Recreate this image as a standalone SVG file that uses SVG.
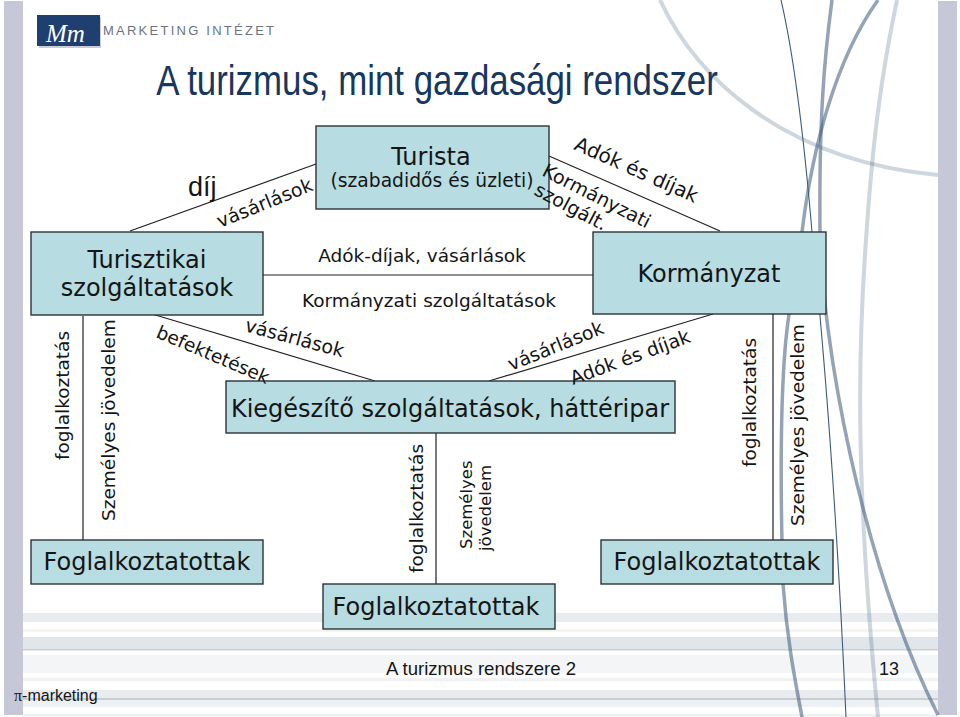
<svg xmlns="http://www.w3.org/2000/svg" width="960" height="717" viewBox="0 0 960 717">
<style>
.n{fill:#b7dde2;stroke:#2b3338;stroke-width:1.4}
.c{stroke:#222;stroke-width:1.2;fill:none}
text{font-family:"DejaVu Sans",Verdana,sans-serif;fill:#151515}
.a{font-family:"Liberation Sans",Arial,sans-serif}
.s{font-size:18.5px}
.r{font-size:19px}
.m{font-size:24px;text-anchor:middle}
.bg{fill:none;stroke:#3d5a7a}
</style>
<rect width="960" height="717" fill="#fff"/>
<g id="stripes">
<rect x="23" y="613" width="915" height="9" fill="#e9ecef"/>
<rect x="23" y="629" width="915" height="3" fill="#f4f4f1"/>
<rect x="23" y="637" width="915" height="12" fill="#e1e6eb"/>
<rect x="23" y="649" width="915" height="1.5" fill="#c9cfd4"/>
<rect x="23" y="655" width="915" height="18" fill="#f3f5f7"/>
<rect x="23" y="678" width="915" height="3" fill="#f0f2f3"/>
<rect x="23" y="690" width="915" height="8" fill="#e8ecef"/>
<rect x="23" y="698" width="915" height="2" fill="#c9ced2"/>
<rect x="23" y="700" width="915" height="7" fill="#eef1f3"/>
<rect x="23" y="714" width="915" height="3" fill="#f0f2f3"/>
</g>
<rect x="4" y="1" width="19" height="714" fill="#c6c7d7"/>
<rect x="938" y="1" width="19" height="714" fill="#c6c7d7"/>
<g id="decor">
<path class="bg" stroke-width="4" opacity=".25" d="M660 0C695 75 780 160 938 175"/>
<path class="bg" stroke-width="1.1" d="M781 0C795 60 805 150 812 232C822 330 835 470 846 717"/>
<path class="bg" stroke-width="3.5" opacity=".55" d="M832 0C824 60 819 120 820 232C822 340 860 560 938 715"/>
<path class="bg" stroke-width="3.5" opacity=".55" d="M878 0C835 60 812 150 802 232C796 270 788 310 785 350C781 400 780 480 783 584C787 640 795 680 802 717"/>
<path class="bg" stroke-width="4" opacity=".25" d="M897 0C880 80 872 150 866 240C858 350 855 480 878 717"/>
</g>
<g id="logo"><rect x="39" y="17" width="62" height="31" fill="#c9ced6"/><rect x="37" y="15" width="63" height="31" fill="#1f3f70"/><text x="46" y="42" font-size="25" font-style="italic" style="fill:#fff;font-family:'Liberation Serif',serif">Mm</text><text class="a" x="103" y="35" font-size="13" textLength="171" style="fill:#6b7380">MARKETING  INTÉZET</text></g>
<text class="a" transform="translate(437 95) scale(.83 1)" font-size="42" text-anchor="middle" style="fill:#17375e" id="title">A turizmus, mint gazdasági rendszer</text>
<g id="connectors">
<path class="c" d="M130 231L316 164M549 156L720 231M263 275H593M152 314L375 381M489 381L713 314M83 316V540M773 314V540M436 433V584"/>
</g>
<g id="turista"><rect class="n" x="316" y="126" width="233" height="83"/><text x="431" y="165" font-size="24" text-anchor="middle">Turista</text><text x="432" y="187" font-size="18.7" text-anchor="middle">(szabadidős és üzleti)</text></g>
<text class="r" id="lbl-szolgalt" transform="translate(533 194) rotate(28)">szolgált.</text>
<g id="turisztikai"><rect class="n" x="31" y="232" width="232" height="83"/><text class="m" x="147" y="268">Turisztikai</text><text class="m" x="147" y="296">szolgáltatások</text></g>
<g id="kormanyzat"><rect class="n" x="593" y="232" width="233" height="82"/><text class="m" x="709" y="282">Kormányzat</text></g>
<g id="kiegeszito"><rect class="n" x="226" y="381" width="449" height="52"/><text x="450" y="417" font-size="24" text-anchor="middle">Kiegészítő szolgáltatások, háttéripar</text></g>
<g id="f1"><rect class="n" x="31" y="540" width="232" height="44"/><text class="m" x="147" y="570">Foglalkoztatottak</text></g>
<g id="f2"><rect class="n" x="323" y="584" width="232" height="45"/><text class="m" x="436" y="615">Foglalkoztatottak</text></g>
<g id="f3"><rect class="n" x="601" y="540" width="232" height="44"/><text class="m" x="717" y="570">Foglalkoztatottak</text></g>
<g id="labels">
<text class="a" x="188" y="196" font-size="27">díj</text>
<text class="r" transform="translate(220 228) rotate(-22)">vásárlások</text>
<text transform="translate(573 149) rotate(24)" font-size="20">Adók és díjak</text>
<text class="r" transform="translate(541 175) rotate(27)">Kormányzati</text>
<text class="s" x="422" y="262" text-anchor="middle">Adók-díjak, vásárlások</text>
<text class="s" x="429" y="307" text-anchor="middle">Kormányzati szolgáltatások</text>
<text class="s" transform="translate(155 337) rotate(23)">befektetések</text>
<text class="r" transform="translate(244 331) rotate(15)">vásárlások</text>
<text class="r" transform="translate(511 371) rotate(-22)">vásárlások</text>
<text class="r" transform="translate(573 385) rotate(-20)">Adók és díjak</text>
<text class="s" transform="translate(69 460) rotate(-90)">foglalkoztatás</text>
<text class="s" transform="translate(115 521) rotate(-90)">Személyes jövedelem</text>
<text class="s" transform="translate(423 573) rotate(-90)">foglalkoztatás</text>
<text transform="translate(472 549) rotate(-90)" font-size="16.5">Személyes</text>
<text transform="translate(491 551) rotate(-90)" font-size="16.5">jövedelem</text>
<text class="s" transform="translate(756 467) rotate(-90)">foglalkoztatás</text>
<text class="s" transform="translate(804 526) rotate(-90)">Személyes jövedelem</text>
</g>
<g id="footer">
<text class="a" x="481" y="675" font-size="18.6" text-anchor="middle">A turizmus rendszere 2</text>
<text class="a" x="889" y="675" font-size="18" text-anchor="middle">13</text>
<text class="a" x="14" y="701" font-size="16"><tspan style="font-family:'Liberation Serif',serif">π</tspan>-marketing</text>
</g>
</svg>
